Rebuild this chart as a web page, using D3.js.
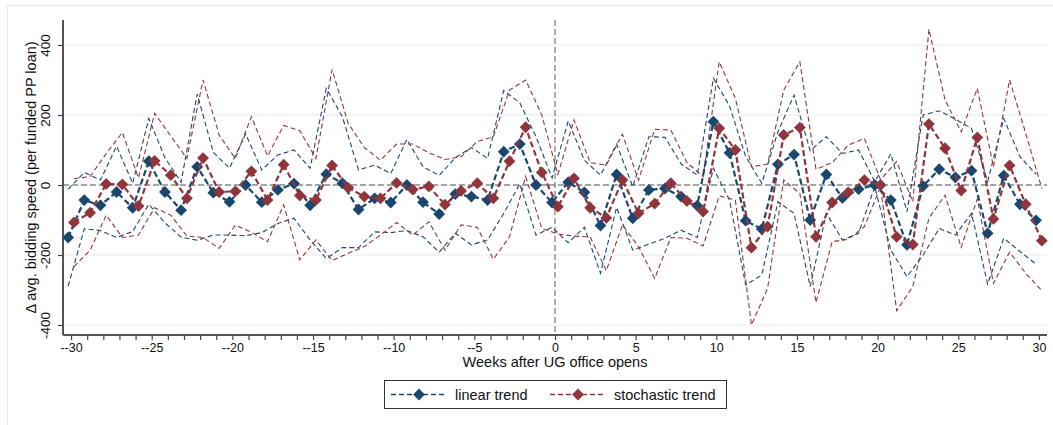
<!DOCTYPE html>
<meta charset="utf-8">
<style>
body { margin: 0; background: #fff; font-family: "Liberation Sans", Arial, sans-serif; }
.ci { fill: none; stroke-width: 1.1px; stroke-dasharray: 5,3; }
.est { fill: none; stroke-width: 2.2px; stroke-dasharray: 6,3; }
</style>
<body>
<div id="chart"></div>
<script src="https://d3js.org/d3.v7.min.js"></script>
<script>

var weeks = d3.range(-30, 31);

// linear trend: estimate, upper and lower bound
var linPt = [-150,-43,-58,-20,-65,68,-20,-72,52,-22,
  -48,0,-49,-14,4,-58,31,5,-70,-38,-50,
  0,-49,-83,-26,-33,-43,95,117,0,-50,
  8,-21,-116,30,-95,-14,-10,-33,-59,181,
  92,-102,-126,59,87,-100,30,-37,-12,0,
  -43,-171,-3,45,22,41,-138,27,-55,-101];
var linHi = [-12,36,14,111,5,190,78,8,260,93,
  48,146,43,86,100,48,276,195,43,57,33,
  130,52,27,78,107,76,270,235,138,20,
  183,71,28,117,-5,138,136,60,28,305,
  226,81,5,152,257,98,138,90,100,10,
  89,-76,200,212,188,162,10,190,81,31];
var linLo = [-289,-125,-130,-150,-133,-55,-108,-149,-158,-143,
  -143,-145,-136,-110,-95,-157,-210,-179,-179,-134,-136,
  -130,-148,-192,-138,-171,-157,-81,3,-143,-121,
  -165,-121,-252,-64,-186,-169,-152,-129,-150,48,
  -43,-286,-257,-48,-81,-290,-81,-157,-138,-5,
  -186,-262,-200,-124,-143,-81,-283,-152,-190,-226];

// stochastic trend: estimate, upper and lower bound
var stoPt = [-107,-79,3,2,-60,69,28,-38,77,-20,
  -18,39,-43,58,-30,-43,56,-8,-33,-38,6,
  -13,-4,-56,-17,5,-38,68,165,36,-62,
  19,-65,-94,14,-81,-53,5,-46,-76,162,
  100,-179,-119,143,164,-148,-50,-21,14,0,
  -148,-170,174,105,-16,136,-97,56,-55,-159];
var stoHi = [18,24,90,150,20,205,140,76,300,143,
  76,195,83,170,155,76,330,176,107,71,117,
  117,92,73,81,124,138,271,300,200,30,
  186,64,57,145,14,159,157,64,24,352,
  248,52,60,271,352,45,64,114,133,15,
  67,-48,445,243,152,276,52,300,148,-10];
var stoLo = [-233,-186,-86,-150,-143,-65,-86,-146,-150,-181,
  -115,-135,-162,-57,-214,-157,-216,-195,-176,-143,-107,
  -143,-105,-186,-114,-121,-212,-148,24,-124,-140,
  -146,-148,-245,-114,-176,-267,-150,-152,-174,-31,
  -43,-400,-295,14,-24,-336,-162,-155,-119,-5,
  -359,-290,-95,-29,-178,-40,-281,-192,-252,-302];

var yTicks = [-400, -200, 0, 200, 400];
var xTicks = [-30, -25, -20, -15, -10, -5, 0, 5, 10, 15, 20, 25, 30];

var width = 1053, height = 425;
var blue = "#1a476f", red = "#90353b";

var svg = d3.select("#chart").append("svg")
    .attr("width", width)
    .attr("height", height);

// faint outer frame
svg.append("rect")
    .attr("x", 7.5).attr("y", 5.5)
    .attr("width", 1100).attr("height", 500)
    .attr("fill", "none")
    .attr("stroke", "#e4ecee");

var x = d3.scaleLinear().domain([-30.5, 30.5]).range([63, 1047]);
var y = d3.scaleLinear().domain([-400, 400]).range([325, 45]);
var yTop = 20, yBot = 335;

// gridlines
svg.append("g").selectAll("line")
    .data(yTicks)
    .enter().append("line")
    .attr("x1", x(-30.5)).attr("x2", x(30.5))
    .attr("y1", function(d) { return y(d); })
    .attr("y2", function(d) { return y(d); })
    .attr("stroke", "#e3ebee")
    .attr("stroke-width", 1.2);

// reference lines at 0
svg.append("line")
    .attr("x1", x(-30.5)).attr("x2", x(30.5))
    .attr("y1", y(0)).attr("y2", y(0))
    .attr("stroke", "#8a8a8a").attr("stroke-width", 1.4)
    .attr("stroke-dasharray", "6,3");
svg.append("line")
    .attr("x1", x(0)).attr("x2", x(0))
    .attr("y1", yTop).attr("y2", yBot)
    .attr("stroke", "#8a8a8a").attr("stroke-width", 1.4)
    .attr("stroke-dasharray", "6,3");

// axes
var xAxis = d3.axisBottom(x)
    .tickValues(weeks)
    .tickSize(5)
    .tickPadding(3)
    .tickFormat(function(d) {
        if (xTicks.indexOf(d) < 0) return "";
        return d < 0 ? "-" + d : d;
    });
var gx = svg.append("g")
    .attr("transform", "translate(0," + yBot + ")")
    .call(xAxis);
gx.select(".domain").attr("d", "M" + x(-30.5) + ",0H" + x(30.5))
    .attr("stroke", "#555").attr("stroke-width", 2);
gx.selectAll(".tick line").attr("stroke", "#444").attr("stroke-width", 1.2);
gx.selectAll("text").attr("font-size", 12.5).attr("fill", "#111")
    .attr("font-family", "Liberation Sans, Arial, sans-serif");

var yAxis = d3.axisLeft(y)
    .tickValues(yTicks)
    .tickSize(5)
    .tickPadding(0)
    .tickFormat(function(d) { return d; });
var gy = svg.append("g")
    .attr("transform", "translate(63,0)")
    .call(yAxis);
gy.select(".domain").attr("d", "M0," + yTop + "V" + yBot)
    .attr("stroke", "#555").attr("stroke-width", 2);
gy.selectAll(".tick line").attr("stroke", "#444").attr("stroke-width", 1.2);
gy.selectAll("text")
    .attr("font-size", 13.5).attr("fill", "#111")
    .attr("font-family", "Liberation Sans, Arial, sans-serif")
    .attr("text-anchor", "middle")
    .attr("x", 0).attr("dy", 0)
    .attr("transform", "translate(-13,0) rotate(-90)")
    .attr("y", 0)
    .attr("dominant-baseline", "auto");

// axis titles
svg.append("text")
    .attr("x", x(0)).attr("y", 367)
    .attr("text-anchor", "middle")
    .attr("font-size", 14.5).attr("fill", "#111")
    .text("Weeks after UG office opens");
svg.append("text")
    .attr("transform", "translate(36," + ((yTop + yBot) / 2) + ") rotate(-90)")
    .attr("text-anchor", "middle")
    .attr("font-size", 14.5).attr("fill", "#111")
    .text("\u0394 avg. bidding speed (per funded PP loan)");

// series
var series = [
    {pt: linPt, hi: linHi, lo: linLo, color: blue, off: -0.18},
    {pt: stoPt, hi: stoHi, lo: stoLo, color: red, off: 0.18}
];

var diamond = d3.symbol().type(d3.symbolSquare).size(70);

series.forEach(function(s) {
    var line = d3.line()
        .x(function(d, i) { return x(weeks[i] + s.off); })
        .y(function(d) { return y(d); });
    svg.append("path").datum(s.hi).attr("class", "ci")
        .attr("stroke", s.color).attr("d", line);
    svg.append("path").datum(s.lo).attr("class", "ci")
        .attr("stroke", s.color).attr("d", line);
});

series.forEach(function(s) {
    var line = d3.line()
        .x(function(d, i) { return x(weeks[i] + s.off); })
        .y(function(d) { return y(d); });
    svg.append("path").datum(s.pt).attr("class", "est")
        .attr("stroke", s.color).attr("d", line);
    svg.append("g").selectAll("path")
        .data(s.pt)
        .enter().append("path")
        .attr("d", diamond)
        .attr("fill", s.color)
        .attr("transform", function(d, i) {
            return "translate(" + x(weeks[i] + s.off) + "," + y(d) + ") rotate(45)";
        });
});

// legend
var legend = svg.append("g");
legend.append("rect")
    .attr("x", 384.5).attr("y", 380.5)
    .attr("width", 342).attr("height", 28)
    .attr("fill", "#fff").attr("stroke", "#333").attr("stroke-width", 1);

var legendItems = [
    {label: "linear trend", color: blue, x0: 391},
    {label: "stochastic trend", color: red, x0: 550}
];
legendItems.forEach(function(d) {
    legend.append("line")
        .attr("x1", d.x0).attr("x2", d.x0 + 56)
        .attr("y1", 394.5).attr("y2", 394.5)
        .attr("stroke", d.color).attr("stroke-width", 1.4)
        .attr("stroke-dasharray", "5,3");
    legend.append("path")
        .attr("d", diamond)
        .attr("fill", d.color)
        .attr("transform", "translate(" + (d.x0 + 28) + ",394.5) rotate(45)");
    legend.append("text")
        .attr("x", d.x0 + 64).attr("y", 399.5)
        .attr("font-size", 14.5).attr("fill", "#111")
        .text(d.label);
});

</script>
</body>
